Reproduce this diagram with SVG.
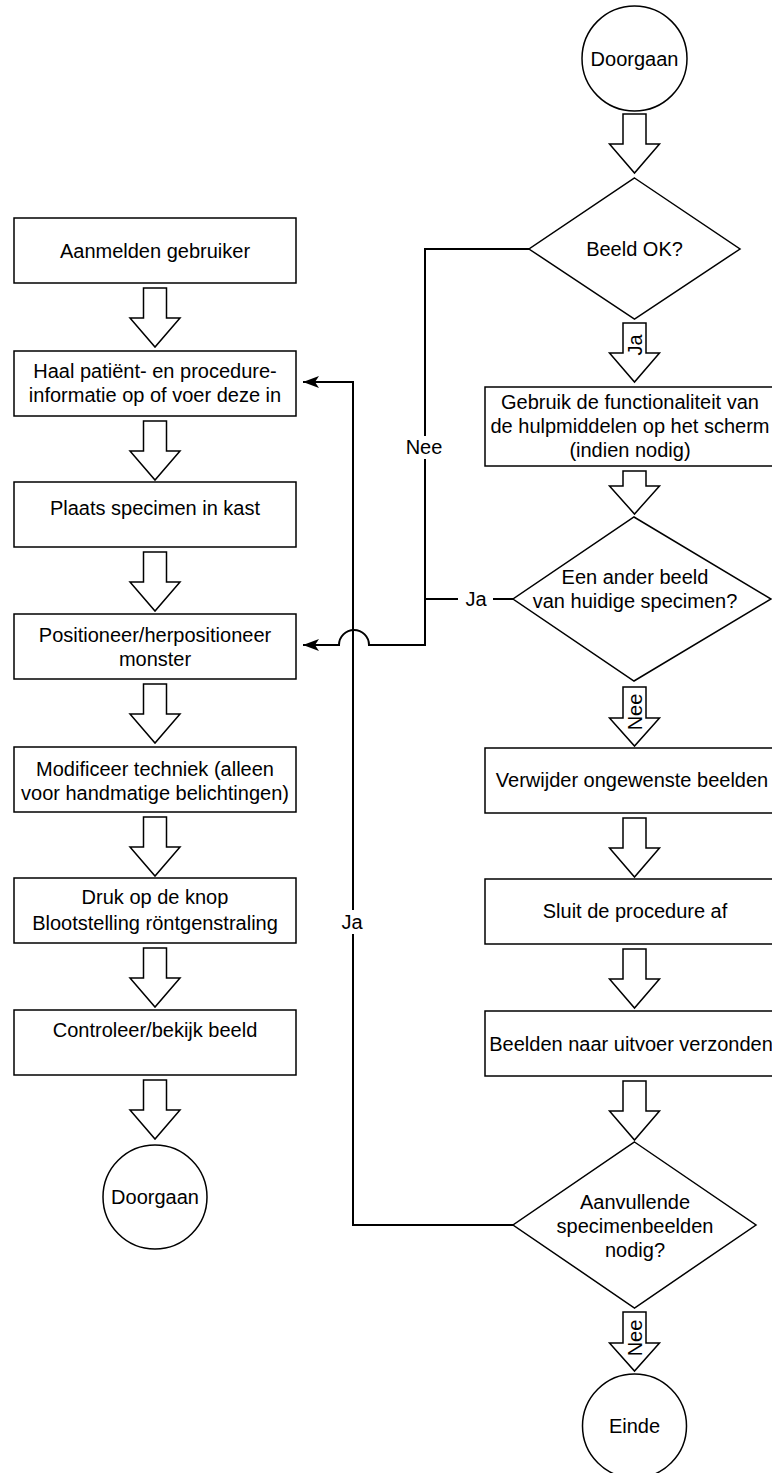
<svg xmlns="http://www.w3.org/2000/svg" width="772" height="1473" viewBox="0 0 772 1473">
<style>
.shape{fill:#fff;stroke:#000;stroke-width:1.5}
.blk{fill:#fff;stroke:#000;stroke-width:1.5}
.edge{fill:none;stroke:#000;stroke-width:2}
.t{font-family:"Liberation Sans",Arial,sans-serif;font-size:20px;fill:#000;text-anchor:middle}
.bg{fill:#fff;stroke:none}
</style>
<defs>
<marker id="ah" markerUnits="userSpaceOnUse" markerWidth="16" markerHeight="12" refX="16" refY="6" orient="auto">
<path d="M0,0 L16,6 L0,12 L4,6 Z" fill="#000"/>
</marker>
</defs>
<rect width="772" height="1473" fill="#fff"/>

<g id="connectors">
<path class="edge" d="M529,249 H425 V645 H369 A15,15 0 0 0 339,645 H303" marker-end="url(#ah)"/>
<path class="edge" d="M513,599 H425"/>
<path class="edge" d="M513,1225 H353 V382 H303" marker-end="url(#ah)"/>
<rect class="bg" x="404" y="436" width="40" height="23"/>
<text class="t" x="424" y="454">Nee</text>
<rect class="bg" x="458" y="588" width="35" height="22"/>
<text class="t" x="476" y="606">Ja</text>
<rect class="bg" x="339" y="910" width="28" height="24"/>
<text class="t" x="352" y="929">Ja</text>
</g>

<g id="left-arrows">
<path class="blk" d="M143.5,288 H166.5 V318 H180 L155,347 L130,318 H143.5 Z"/>
<path class="blk" d="M143.5,421 H166.5 V451 H180 L155,480 L130,451 H143.5 Z"/>
<path class="blk" d="M143.5,552 H166.5 V582 H180 L155,611 L130,582 H143.5 Z"/>
<path class="blk" d="M143.5,684 H166.5 V714 H180 L155,743 L130,714 H143.5 Z"/>
<path class="blk" d="M143.5,817 H166.5 V847 H180 L155,876 L130,847 H143.5 Z"/>
<path class="blk" d="M143.5,948 H166.5 V978 H180 L155,1007 L130,978 H143.5 Z"/>
<path class="blk" d="M143.5,1080 H166.5 V1110 H180 L155,1139 L130,1110 H143.5 Z"/>
</g>

<g id="n-aanmelden">
<rect class="shape" x="14" y="218" width="282" height="65"/>
<text class="t" x="155" y="258">Aanmelden gebruiker</text>
</g>
<g id="n-haal">
<rect class="shape" x="14" y="351" width="282" height="65"/>
<text class="t" x="155" y="378">Haal patiënt- en procedure-</text>
<text class="t" x="155" y="402">informatie op of voer deze in</text>
</g>
<g id="n-plaats">
<rect class="shape" x="14" y="482" width="282" height="65"/>
<text class="t" x="155" y="515">Plaats specimen in kast</text>
</g>
<g id="n-positioneer">
<rect class="shape" x="14" y="614" width="282" height="65"/>
<text class="t" x="155" y="642">Positioneer/herpositioneer</text>
<text class="t" x="155" y="666">monster</text>
</g>
<g id="n-modificeer">
<rect class="shape" x="14" y="747" width="282" height="65"/>
<text class="t" x="155" y="776">Modificeer techniek (alleen</text>
<text class="t" x="155" y="800">voor handmatige belichtingen)</text>
</g>
<g id="n-druk">
<rect class="shape" x="14" y="878" width="282" height="65"/>
<text class="t" x="155" y="904">Druk op de knop</text>
<text class="t" x="155" y="930">Blootstelling röntgenstraling</text>
</g>
<g id="n-controleer">
<rect class="shape" x="14" y="1010" width="282" height="65"/>
<text class="t" x="155" y="1037">Controleer/bekijk beeld</text>
</g>
<g id="n-doorgaan-left">
<circle class="shape" cx="155" cy="1197" r="52"/>
<text class="t" x="155" y="1204">Doorgaan</text>
</g>

<g id="right-arrows">
<path class="blk" d="M623,114 H646 V144 H659.5 L634.5,173 L609.5,144 H623 Z"/>
<path class="blk" d="M623,323 H646 V353 H659.5 L634.5,382 L609.5,353 H623 Z"/>
<path class="blk" d="M623,471 H646 V486 H659.5 L634.5,514 L609.5,486 H623 Z"/>
<path class="blk" d="M623,687 H646 V718 H659.5 L634.5,746 L609.5,718 H623 Z"/>
<path class="blk" d="M623,818 H646 V848 H659.5 L634.5,877 L609.5,848 H623 Z"/>
<path class="blk" d="M623,949 H646 V979 H659.5 L634.5,1008 L609.5,979 H623 Z"/>
<path class="blk" d="M623,1081 H646 V1111 H659.5 L634.5,1140 L609.5,1111 H623 Z"/>
<path class="blk" d="M623,1312 H646 V1343 H659.5 L634.5,1371 L609.5,1343 H623 Z"/>
<text class="t" x="635" y="352" transform="rotate(-90 635 345)">Ja</text>
<text class="t" x="635" y="719" transform="rotate(-90 635 712)">Nee</text>
<text class="t" x="635" y="1345" transform="rotate(-90 635 1338)">Nee</text>
</g>

<g id="n-doorgaan-top">
<circle class="shape" cx="634.5" cy="58.5" r="52.5"/>
<text class="t" x="634.5" y="66">Doorgaan</text>
</g>
<g id="n-beeldok">
<polygon class="shape" points="634.5,178 740,249 634.5,319 529,249"/>
<text class="t" x="634.5" y="256">Beeld OK?</text>
</g>
<g id="n-gebruik">
<rect class="shape" x="485" y="387" width="296" height="79"/>
<text class="t" x="630" y="409">Gebruik de functionaliteit van</text>
<text class="t" x="630" y="433">de hulpmiddelen op het scherm</text>
<text class="t" x="630" y="457">(indien nodig)</text>
</g>
<g id="n-anderbeeld">
<polygon class="shape" points="634,517 771,599 634,681 513,599"/>
<text class="t" x="635" y="584">Een ander beeld</text>
<text class="t" x="635" y="608">van huidige specimen?</text>
</g>
<g id="n-verwijder">
<rect class="shape" x="485" y="748" width="296" height="65"/>
<text class="t" x="632" y="787">Verwijder ongewenste beelden</text>
</g>
<g id="n-sluit">
<rect class="shape" x="485" y="879" width="296" height="65"/>
<text class="t" x="635" y="918">Sluit de procedure af</text>
</g>
<g id="n-beelden">
<rect class="shape" x="485" y="1011" width="296" height="65"/>
<text class="t" x="631" y="1051">Beelden naar uitvoer verzonden</text>
</g>
<g id="n-aanvullende">
<polygon class="shape" points="634.5,1142 756,1225 634.5,1308 513,1225"/>
<text class="t" x="635" y="1209">Aanvullende</text>
<text class="t" x="635" y="1233">specimenbeelden</text>
<text class="t" x="635" y="1257">nodig?</text>
</g>
<g id="n-einde">
<circle class="shape" cx="634.5" cy="1426" r="52"/>
<text class="t" x="634.5" y="1433">Einde</text>
</g>
</svg>
